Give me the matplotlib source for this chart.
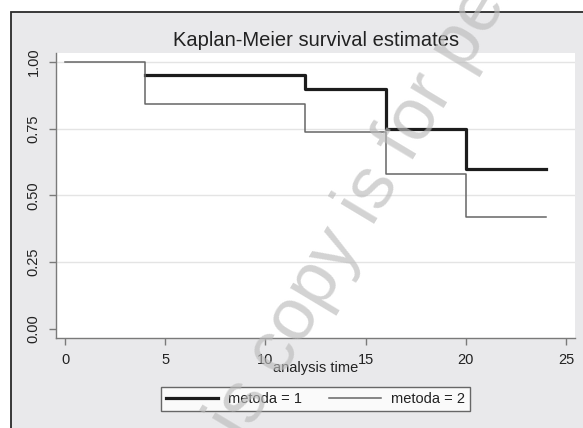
import matplotlib.pyplot as plt
from matplotlib.patches import Rectangle

plt.rcParams['font.family'] = ['Liberation Sans', 'DejaVu Sans']

# Kaplan-Meier step estimates per group
times_m1 = [4, 12, 16, 20, 24]
surv_m1 = [0.95, 0.90, 0.75, 0.60, 0.60]
times_m2 = [0, 4, 12, 16, 20, 24]
surv_m2 = [1.00, 0.842, 0.737, 0.579, 0.421, 0.421]
labels = ["metoda = 1", "metoda = 2"]
xticks = [0, 5, 10, 15, 20, 25]
yticks = [0.00, 0.25, 0.50, 0.75, 1.00]
ytick_labels = ["0.00", "0.25", "0.50", "0.75", "1.00"]

W, H = 583, 428
fig = plt.figure(figsize=(W / 100, H / 100), dpi=100)
fig.patch.set_facecolor('white')

# grey graph region with dark border (right/bottom edges run off the picture)
fig.patches.append(Rectangle((11 / W, -0.1), 1.2, 1 - 12 / H + 0.1,
                             transform=fig.transFigure, facecolor='#e9e9eb',
                             edgecolor='#2a2a2a', linewidth=1.3, zorder=-5))

ax = fig.add_axes([56 / W, (H - 338) / H, 519 / W, 285 / H])
ax.set_zorder(2)
ax.set_facecolor('white')

l1, = ax.step(times_m1, surv_m1, where='post', color='#1c1c1c', linewidth=2.3,
              zorder=3)
l2, = ax.step(times_m2, surv_m2, where='post', color='#666666', linewidth=1.1,
              zorder=4)

ax.set_xlim(-0.45, 25.45)
ax.set_ylim(-0.034, 1.034)
ax.set_xticks(xticks)
ax.set_yticks(yticks)
ax.set_yticklabels(ytick_labels, rotation=90, va='center')

for y in yticks[1:]:
    ax.axhline(y, color='#e4e4e4', linewidth=1.0, zorder=1)

for s in ['top', 'right']:
    ax.spines[s].set_visible(False)
for s in ['left', 'bottom']:
    ax.spines[s].set_color('#7a7a7a')
    ax.spines[s].set_linewidth(1.0)
ax.tick_params(direction='out', length=5, width=1.0, color='#7a7a7a',
               labelsize=10.5, labelcolor='#222222', pad=6)

fig.text(316 / W, 1 - 40 / H, "Kaplan-Meier survival estimates",
         ha='center', va='center', fontsize=14.5, color='#222222')
fig.text(316 / W, 1 - 368 / H, "analysis time",
         ha='center', va='center', fontsize=10.5, color='#222222')

leg = fig.legend([l1, l2], labels, loc='center', ncol=2,
                 bbox_to_anchor=(315.5 / W, 1 - 399 / H),
                 bbox_transform=fig.transFigure, fontsize=10.5,
                 frameon=True, fancybox=False, edgecolor='#444444',
                 handlelength=3.6, handletextpad=0.7, columnspacing=1.8,
                 borderpad=0.35, borderaxespad=0)
leg.get_frame().set_linewidth(1.0)
leg.set_zorder(3)
for t in leg.get_texts():
    t.set_color('#222222')

# watermark
fig.text(212 / W, 1 - 494 / H, "this copy is for personal use only",
         rotation=59, rotation_mode='anchor', ha='left', va='baseline',
         fontsize=53, color='#bbbbbb', alpha=0.65, zorder=10)

fig.savefig('out.png', dpi=100)
